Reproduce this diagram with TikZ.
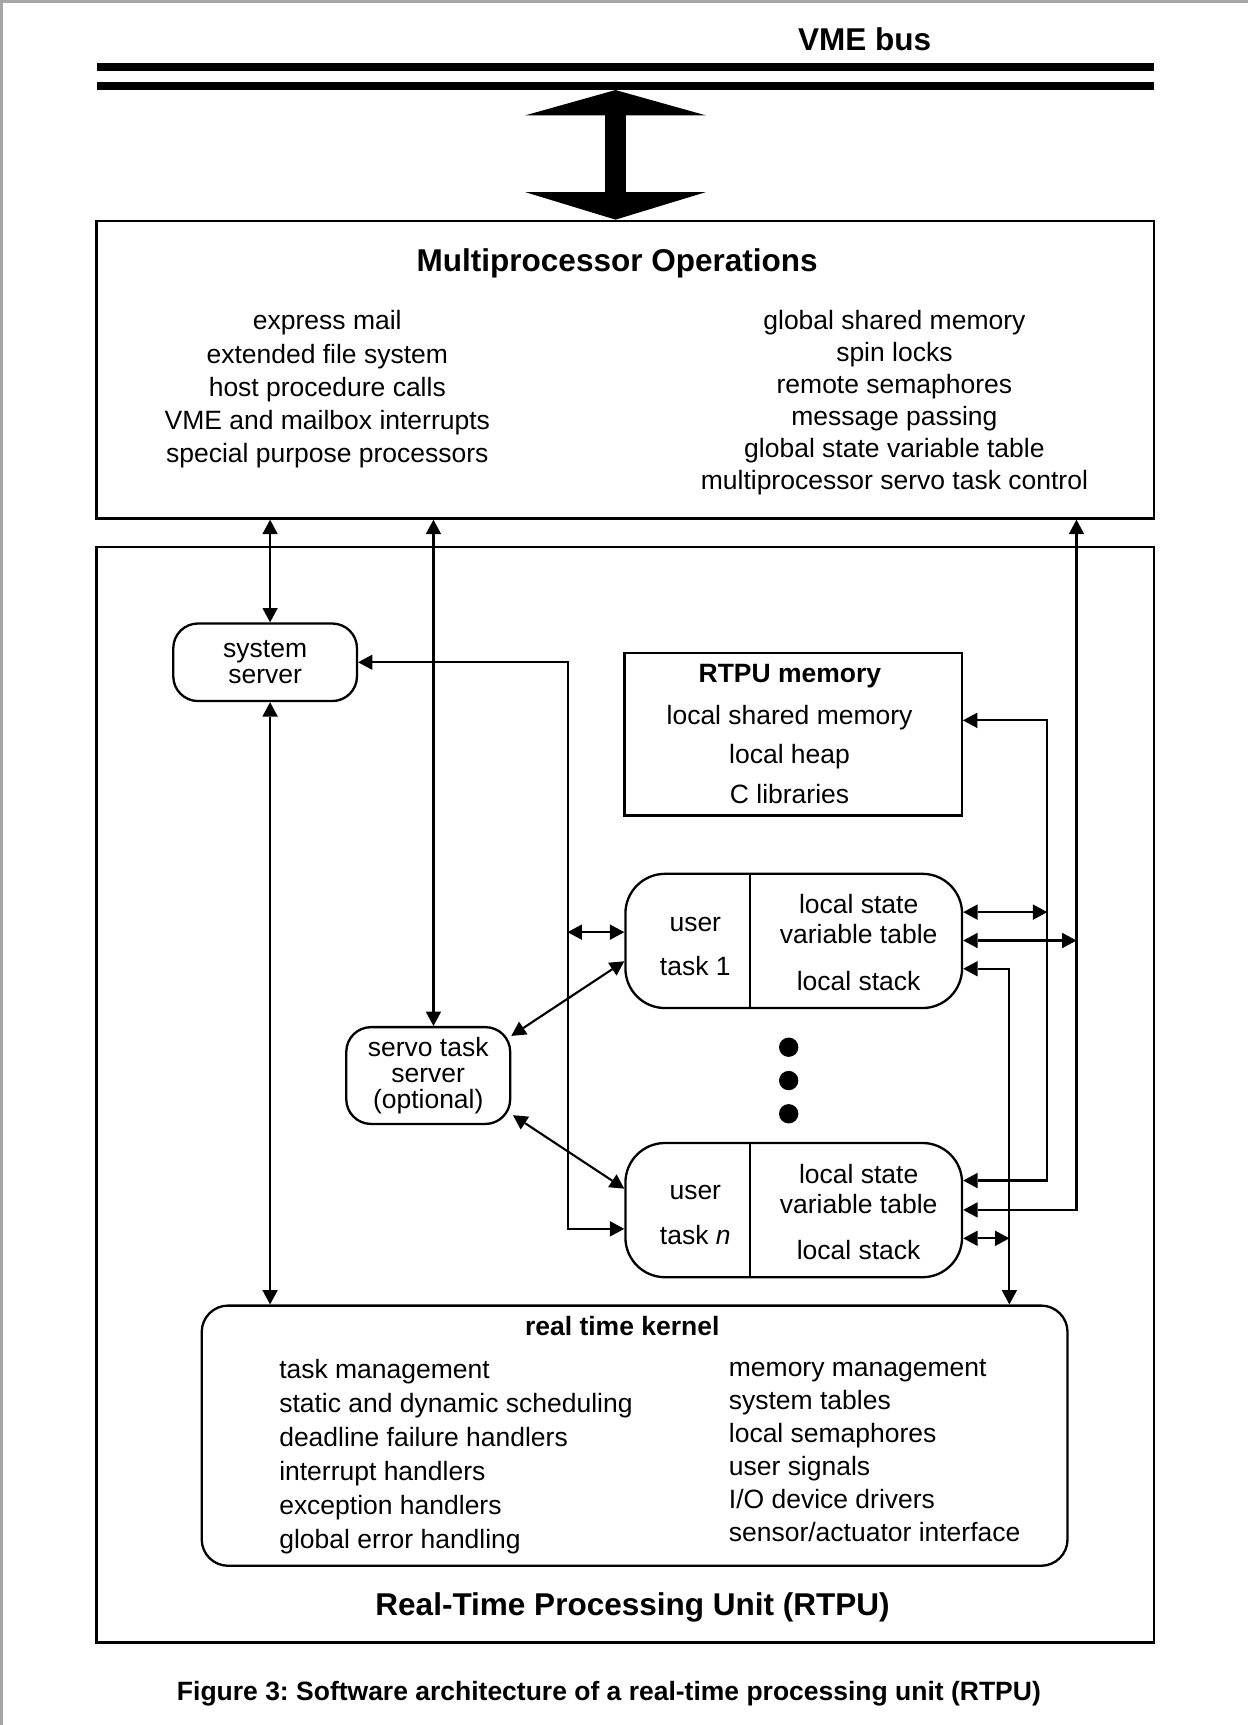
\documentclass[tikz,border=0pt]{standalone}
\usepackage{fontspec}
\setmainfont{Liberation Sans}
\usetikzlibrary{positioning, calc, arrows.meta}
\frenchspacing

\begin{document}
\begin{tikzpicture}[
    box/.style={rectangle, draw, black, line width=1.3pt},
    server/.style={rectangle, draw, black, line width=1.2pt, rounded corners=0.45cm, align=center, inner sep=0pt, font=\fontsize{13.7}{13.5}\selectfont},
    task/.style={rectangle, draw, black, line width=1.2pt, rounded corners=0.72cm, minimum width=6.12cm, minimum height=2.44cm},
    kernelbox/.style={rectangle, draw, black, line width=1.2pt, rounded corners=0.48cm},
    heading/.style={inner sep=0pt, font=\bfseries\fontsize{16.3}{19}\selectfont},
    subheading/.style={inner sep=0pt, font=\bfseries\fontsize{13.7}{16}\selectfont},
    items/.style={align=center, inner sep=0pt, font=\fontsize{13.7}{#1}\selectfont},
    leftitems/.style={align=left, inner sep=0pt, font=\fontsize{13.7}{#1}\selectfont},
    bus/.style={draw, black, line width=0.14cm},
    bigarrow/.style={draw, black, line width=0.39cm, {Triangle[width=3.28cm, length=0.46cm, line width=0pt]}-{Triangle[width=3.28cm, length=0.5cm, line width=0pt]}},
    link/.style={draw, black, line width=1.1pt},
    twoway/.style={link, {Triangle[length=0.26cm, width=0.28cm, line width=0pt]}-{Triangle[length=0.26cm, width=0.28cm, line width=0pt]}}]

    \useasboundingbox (0,0) rectangle (22.68,-31.36);
    \draw[gray!70, line width=0.05cm] (0.025,-31.36) -- (0.025,-0.025) -- (22.68,-0.025);

    % --- VME bus ---
    \node[heading, anchor=base] (vme) at (15.72,-0.922) {VME bus};
    \draw[bus] (1.766,-1.222) -- (20.98,-1.222);
    \draw[bus] (1.766,-1.567) -- (20.98,-1.567);
    \coordinate (tap) at (11.19,-1.637);

    % --- Multiprocessor Operations ---
    \node[box, minimum width=19.23cm, minimum height=5.41cm] (mpo) at (11.365,-6.721) {};
    \node[heading, anchor=base] (mpotitle) at (11.22,-4.93) {Multiprocessor Operations};
    \node[items=17.2pt, anchor=north] (mpoleft) at (5.95,-5.64) {express mail\\extended file system\\host procedure calls\\VME and mailbox interrupts\\special purpose processors};
    \node[items=16.5pt, anchor=north] (mporight) at (16.26,-5.64) {global shared memory\\spin locks\\remote semaphores\\message passing\\global state variable table\\multiprocessor servo task control};
    \draw[bigarrow] (tap) -- (tap |- mpo.north);

    % --- RTPU ---
    \node[box, minimum width=19.22cm, minimum height=19.92cm] (rtpu) at (11.367,-19.9) {};
    \node[heading, anchor=base] (rtputitle) at (11.5,-29.37) {Real-Time Processing Unit (RTPU)};

    % --- servers ---
    \node[server, minimum width=3.34cm, minimum height=1.41cm] (sys) at (4.82,-12.04) {system\\server};
    \node[server, font=\fontsize{13.7}{13.3}\selectfont, minimum width=2.98cm, minimum height=1.76cm] (servo) at (7.785,-19.553) {servo task\\server\\(optional)};

    % --- RTPU memory ---
    \node[box, line width=1.2pt, minimum width=6.13cm, minimum height=2.95cm] (mem) at (14.42,-13.35) {};
    \node[subheading, anchor=base] (memtitle) at (14.36,-12.41) {RTPU memory};
    \node[items=20.5pt, anchor=north] (memitems) at (14.354,-12.81) {local shared memory\\local heap\\C libraries};

    % --- user tasks ---
    \node[task] (ut1) at (14.43,-17.106) {};
    \node[task] (utn) at (14.43,-21.999) {};
    \coordinate (div) at (13.64,0);
    \draw[link] (ut1.north -| div) -- (ut1.south -| div);
    \draw[link] (utn.north -| div) -- (utn.south -| div);
    \node[items=22.9pt, anchor=north] (ut1name) at (12.64,-16.668) {user\\task 1};
    \node[items=15.5pt, anchor=north] (ut1data) at (15.61,-16.258) {local state\\variable table\\[0.3cm]local stack};
    \node[items=22.9pt, anchor=north] (utnname) at (12.64,-21.548) {user\\task \textit{n}};
    \node[items=15.5pt, anchor=north] (utndata) at (15.61,-21.156) {local state\\variable table\\[0.3cm]local stack};
    \foreach \y in {-19.038,-19.644,-20.248}
        \fill (14.338,\y) circle (0.176);

    % --- real time kernel ---
    \node[kernelbox, minimum width=15.74cm, minimum height=4.73cm] (kernel) at (11.537,-26.1) {};
    \node[subheading, anchor=base] (ktitle) at (11.312,-24.28) {real time kernel};
    \node[leftitems=17.6pt, anchor=north west] (kleft) at (5.07,-24.70) {task management\\static and dynamic scheduling\\deadline failure handlers\\interrupt handlers\\exception handlers\\global error handling};
    \node[leftitems=17.1pt, anchor=north west] (kright) at (13.244,-24.70) {memory management\\system tables\\local semaphores\\user signals\\I/O device drivers\\sensor/actuator interface};

    % --- Connectors ---
    \coordinate (railA) at (4.91,0);
    \coordinate (railB) at (7.88,0);
    \coordinate (railC) at (10.318,0);
    \coordinate (railD) at (18.35,0);
    \coordinate (railE) at (19.038,0);
    \coordinate (railF) at (19.57,0);
    \coordinate (rowM) at (0,-13.096);
    \coordinate (rowL1) at (0,-16.946);
    \coordinate (rowLn) at (0,-22.34);
    \coordinate (rowT1) at (0,-16.582);
    \coordinate (rowT2) at (0,-17.098);
    \coordinate (rowT3) at (0,-17.612);
    \coordinate (rowN1) at (0,-21.462);
    \coordinate (rowN2) at (0,-21.996);
    \coordinate (rowN3) at (0,-22.512);

    \draw[twoway] (mpo.south -| railA) -- (sys.north -| railA);
    \draw[twoway] (sys.south -| railA) -- (kernel.north -| railA);
    \draw[twoway] (mpo.south -| railB) -- (servo.north -| railB);
    \draw[twoway] (sys.east) -- (sys.east -| railC) -- (railC |- rowLn) -- (rowLn -| utn.west);
    \draw[twoway] (railC |- rowL1) -- (rowL1 -| ut1.west);
    \draw[twoway] ($(servo.north east)+(0,-0.18)$) -- ($(ut1.west)+(0,-0.37)$);
    \draw[twoway] ($(servo.south east)+(0.03,0.18)$) -- ($(utn.west)+(0,0.39)$);

    \draw[twoway] (mem.east |- rowM) -- (railE |- rowM) -- (railE |- rowN1) -- (rowN1 -| utn.east);
    \draw[twoway] (ut1.east |- rowT1) -- (railE |- rowT1);
    \draw[twoway] (mpo.south -| railF) -- (railF |- rowN2) -- (rowN2 -| utn.east);
    \draw[twoway] (ut1.east |- rowT2) -- (railF |- rowT2);
    \draw[twoway] (ut1.east |- rowT3) -- (railD |- rowT3) -- (kernel.north -| railD);
    \draw[twoway] (utn.east |- rowN3) -- (railD |- rowN3);

    % --- Caption ---
    \node[subheading, anchor=base] (caption) at (11.07,-30.908) {Figure 3: Software architecture of a real-time processing unit (RTPU)};

\end{tikzpicture}
\end{document}
